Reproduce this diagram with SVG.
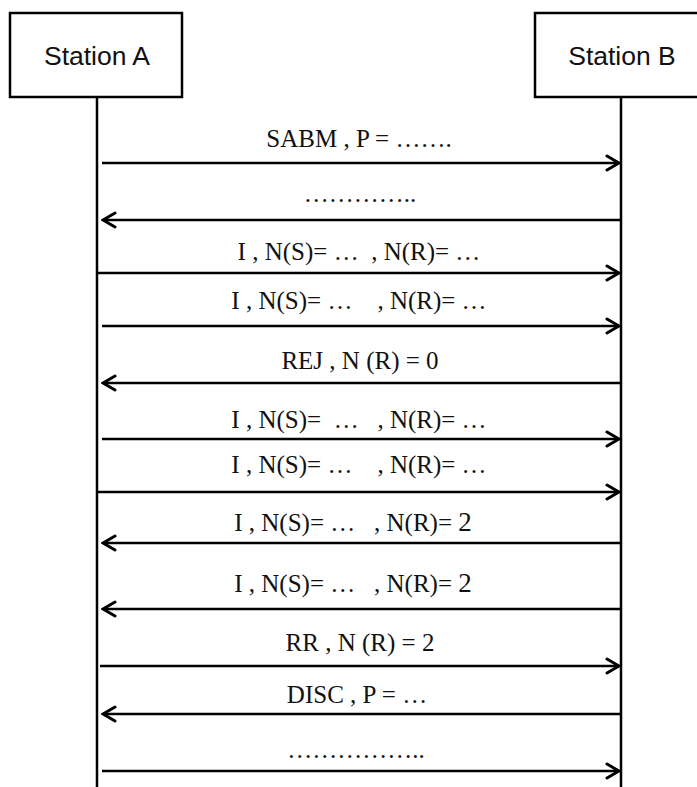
<svg xmlns="http://www.w3.org/2000/svg" width="697" height="787" viewBox="0 0 697 787">
<style>
.box{fill:#fff;stroke:#000;stroke-width:2.5}
.life{stroke:#000;stroke-width:2.5;fill:none}
.msg{stroke:#000;stroke-width:2.6;fill:none;marker-end:url(#arr)}
.hdr{font-family:"Liberation Sans",Arial,sans-serif;font-size:26.5px;fill:#111;text-anchor:middle}
.lbl{font-family:"Liberation Serif","Times New Roman",serif;font-size:25px;fill:#111;text-anchor:middle;white-space:pre}
.big{font-size:27px}
</style>
<defs>
<marker id="arr" markerUnits="userSpaceOnUse" viewBox="-15 -10 17 20" markerWidth="17" markerHeight="20" refX="0" refY="0" orient="auto">
<path d="M-12,-7 L0,0 L-12,7" fill="none" stroke="#000" stroke-width="3" stroke-linecap="round" stroke-linejoin="miter"/>
</marker>
</defs>
<rect width="697" height="787" fill="#fff"/>
<g id="stationA">
<rect class="box" x="10" y="13" width="172" height="84"/>
<text class="hdr" x="97" y="65">Station A</text>
<line class="life" x1="97" y1="97" x2="97" y2="787"/>
</g>
<g id="stationB">
<rect class="box" x="535" y="13" width="175" height="84"/>
<text class="hdr" x="622" y="65">Station B</text>
<line class="life" x1="621" y1="97" x2="621" y2="787"/>
</g>
<g id="connectors">
<line class="msg" x1="102" y1="163" x2="619" y2="163"/>
<line class="msg" x1="621" y1="220" x2="103" y2="220"/>
<line class="msg" x1="97" y1="273" x2="619" y2="273"/>
<line class="msg" x1="102" y1="326" x2="619" y2="326"/>
<line class="msg" x1="621" y1="383" x2="103" y2="383"/>
<line class="msg" x1="102" y1="439" x2="619" y2="439"/>
<line class="msg" x1="97" y1="492" x2="619" y2="492"/>
<line class="msg" x1="621" y1="543" x2="103" y2="543"/>
<line class="msg" x1="621" y1="609" x2="103" y2="609"/>
<line class="msg" x1="100" y1="666" x2="619" y2="666"/>
<line class="msg" x1="621" y1="714" x2="103" y2="714"/>
<line class="msg" x1="102" y1="771" x2="619" y2="771"/>
</g>
<g id="labels">
<text class="lbl" x="359" y="147">SABM , P = …….</text>
<text class="lbl" x="360" y="202">…………..</text>
<text class="lbl" x="359" y="260">I , N(S)= …  , N(R)= …</text>
<text class="lbl" x="359" y="309">I , N(S)= …    , N(R)= …</text>
<text class="lbl" x="360" y="369">REJ , N (R) = 0</text>
<text class="lbl" x="359" y="428">I , N(S)=  …   , N(R)= …</text>
<text class="lbl" x="359" y="473">I , N(S)= …    , N(R)= …</text>
<text class="lbl" x="353" y="531">I , N(S)= …   , N(R)= <tspan class="big">2</tspan></text>
<text class="lbl" x="353" y="592">I , N(S)= …   , N(R)= <tspan class="big">2</tspan></text>
<text class="lbl" x="360" y="651">RR , N (R) = 2</text>
<text class="lbl" x="357" y="703">DISC , P = …</text>
<text class="lbl" x="356" y="758">……………..</text>
</g>
</svg>
